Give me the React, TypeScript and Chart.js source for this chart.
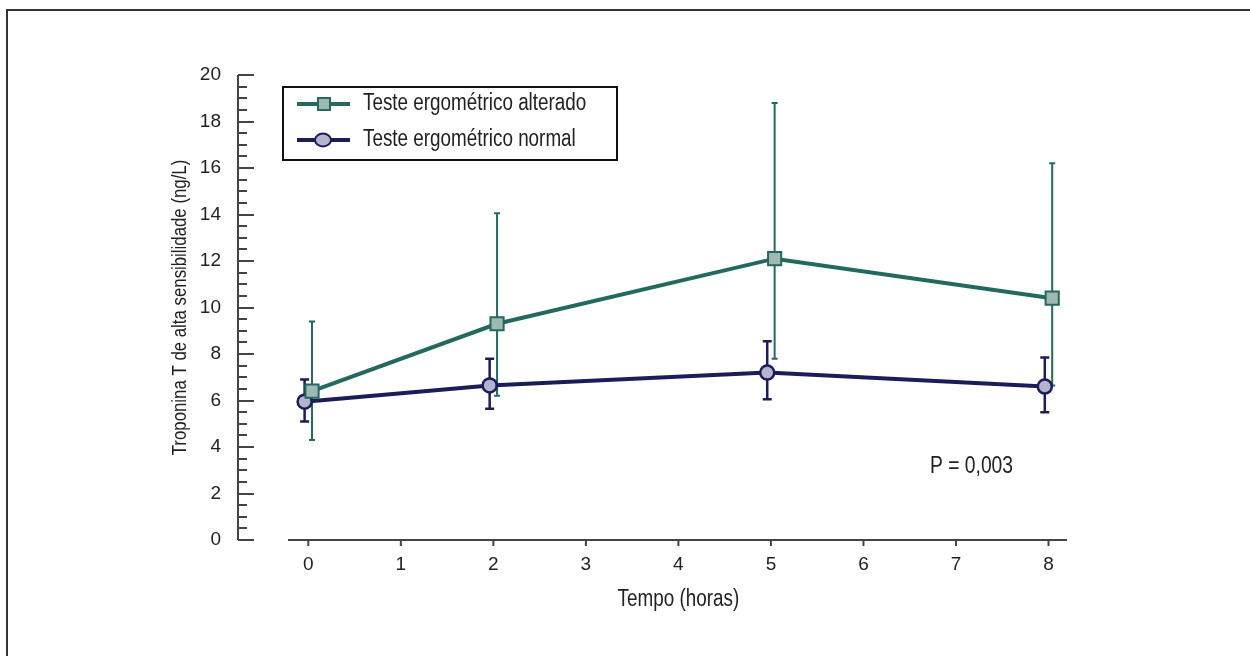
import React, { useEffect, useRef } from "react";
import { Chart, registerables } from "chart.js";

Chart.register(...registerables);

// ---- data ----
const hours = [0, 2, 5, 8];
const xTickValues = [0, 1, 2, 3, 4, 5, 6, 7, 8];
const yTickValues = [0, 2, 4, 6, 8, 10, 12, 14, 16, 18, 20];

const alteredLabel = "Teste ergométrico alterado";
const alteredMean = [6.4, 9.3, 12.1, 10.4];
const alteredUpper = [9.4, 14.05, 18.8, 16.2];
const alteredLower = [4.3, 6.2, 7.8, 6.65];

const normalLabel = "Teste ergométrico normal";
const normalMean = [5.95, 6.65, 7.2, 6.6];
const normalUpper = [6.9, 7.8, 8.55, 7.85];
const normalLower = [5.1, 5.65, 6.05, 5.5];

const yTitle = "Troponina T de alta sensibilidade (ng/L)";
const xTitle = "Tempo (horas)";
const pValueText = "P = 0,003";

// ---- style ----
const FONT = '"Liberation Sans", Arial, Helvetica, sans-serif';
const NARROW = 0.82;
const TEAL = "#24695f";
const TEAL_FILL = "#9fb8b0";
const NAVY = "#1b1d58";
const NAVY_FILL = "#b3b5cf";
const AXIS = "#444444";
const TEXT = "#222222";
const DODGE_ALT = 0.04;
const DODGE_NORM = -0.04;

const series = [
  { mean: alteredMean, upper: alteredUpper, lower: alteredLower, color: TEAL, dodge: DODGE_ALT, cap: 3, width: 2 },
  { mean: normalMean, upper: normalUpper, lower: normalLower, color: NAVY, dodge: DODGE_NORM, cap: 4.5, width: 2.5 },
];

function narrowText(ctx: CanvasRenderingContext2D, text: string, x: number, y: number, size: number, align: CanvasTextAlign, rotate = 0) {
  ctx.save();
  ctx.translate(x, y);
  if (rotate) ctx.rotate(rotate);
  ctx.scale(NARROW, 1);
  ctx.font = `${size}px ${FONT}`;
  ctx.fillStyle = TEXT;
  ctx.textAlign = align;
  ctx.textBaseline = "middle";
  ctx.fillText(text, 0, 0);
  ctx.restore();
}

const decorPlugin = {
  id: "decor",
  beforeDraw(chart: any) {
    const ctx = chart.ctx;
    ctx.save();
    ctx.fillStyle = "#ffffff";
    ctx.fillRect(0, 0, chart.width, chart.height);
    ctx.strokeStyle = "#333333";
    ctx.lineWidth = 2;
    ctx.strokeRect(7, 10, chart.width + 40, chart.height + 40);
    ctx.restore();
  },
  beforeDatasetsDraw(chart: any) {
    const ctx = chart.ctx;
    const xs = chart.scales.x;
    const ys = chart.scales.y;
    const area = chart.chartArea;
    ctx.save();
    // y axis
    ctx.strokeStyle = AXIS;
    ctx.lineWidth = 2;
    ctx.beginPath();
    ctx.moveTo(area.left, ys.getPixelForValue(20));
    ctx.lineTo(area.left, ys.getPixelForValue(0));
    ctx.stroke();
    for (let v = 0; v <= 20.001; v += 0.5) {
      const y = Math.round(ys.getPixelForValue(v));
      const major = Math.abs(v / 2 - Math.round(v / 2)) < 1e-6;
      ctx.beginPath();
      ctx.moveTo(area.left, y);
      ctx.lineTo(area.left + (major ? 16 : 9), y);
      ctx.stroke();
    }
    // x axis
    const xb = area.bottom;
    ctx.beginPath();
    ctx.moveTo(xs.getPixelForValue(-0.22), xb);
    ctx.lineTo(xs.getPixelForValue(8.2), xb);
    ctx.stroke();
    for (const v of xTickValues) {
      const x = xs.getPixelForValue(v);
      ctx.beginPath();
      ctx.moveTo(x, xb);
      ctx.lineTo(x, xb + 6);
      ctx.stroke();
    }
    // error bars
    for (const s of series) {
      ctx.strokeStyle = s.color;
      ctx.lineWidth = s.width;
      hours.forEach((h, j) => {
        const x = xs.getPixelForValue(h + s.dodge);
        const yu = ys.getPixelForValue(s.upper[j]);
        const yl = ys.getPixelForValue(s.lower[j]);
        ctx.beginPath();
        ctx.moveTo(x, yu);
        ctx.lineTo(x, yl);
        ctx.moveTo(x - s.cap, yu);
        ctx.lineTo(x + s.cap, yu);
        ctx.moveTo(x - s.cap, yl);
        ctx.lineTo(x + s.cap, yl);
        ctx.stroke();
      });
    }
    ctx.restore();
  },
  afterDraw(chart: any) {
    const ctx = chart.ctx;
    const xs = chart.scales.x;
    const area = chart.chartArea;
    ctx.save();
    // legend box
    ctx.strokeStyle = "#111111";
    ctx.lineWidth = 2;
    ctx.strokeRect(283, 87, 334, 73);
    const rows = [
      { y: 104, label: alteredLabel, color: TEAL, fill: TEAL_FILL, square: true },
      { y: 140, label: normalLabel, color: NAVY, fill: NAVY_FILL, square: false },
    ];
    for (const r of rows) {
      ctx.strokeStyle = r.color;
      ctx.lineWidth = 4;
      ctx.beginPath();
      ctx.moveTo(297, r.y);
      ctx.lineTo(350, r.y);
      ctx.stroke();
      ctx.fillStyle = r.fill;
      ctx.lineWidth = 2;
      ctx.beginPath();
      if (r.square) ctx.rect(318, r.y - 6, 12, 12);
      else ctx.ellipse(323, r.y, 8, 6.5, 0, 0, Math.PI * 2);
      ctx.fill();
      ctx.stroke();
      narrowText(ctx, r.label, 363, r.y, 23, "left");
    }
    // titles
    narrowText(ctx, xTitle, xs.getPixelForValue(4), 600, 23, "center");
    narrowText(ctx, yTitle, 180, (area.top + area.bottom) / 2, 20.5, "center", -Math.PI / 2);
    // p-value
    narrowText(ctx, pValueText, 930, 467, 23.5, "left");
    ctx.restore();
  },
};

export default function App() {
  const ref = useRef<HTMLCanvasElement | null>(null);
  useEffect(() => {
    if (!ref.current) return;
    const chart = new Chart(ref.current, {
      type: "line",
      data: {
        datasets: [
          {
            label: alteredLabel,
            data: hours.map((h, i) => ({ x: h + DODGE_ALT, y: alteredMean[i] })),
            borderColor: TEAL,
            backgroundColor: TEAL_FILL,
            borderWidth: 4,
            pointStyle: "rect",
            pointRadius: 9.3,
            pointBorderWidth: 2,
            pointBackgroundColor: TEAL_FILL,
            pointBorderColor: TEAL,
            tension: 0,
          },
          {
            label: normalLabel,
            data: hours.map((h, i) => ({ x: h + DODGE_NORM, y: normalMean[i] })),
            borderColor: NAVY,
            backgroundColor: NAVY_FILL,
            borderWidth: 4,
            pointStyle: "circle",
            pointRadius: 7,
            pointBorderWidth: 2.5,
            pointBackgroundColor: NAVY_FILL,
            pointBorderColor: NAVY,
            tension: 0,
          },
        ],
      },
      options: {
        animation: false,
        responsive: false,
        maintainAspectRatio: false,
        layout: { padding: { left: 0, top: 75, right: 183, bottom: 0 } },
        plugins: { legend: { display: false }, tooltip: { enabled: false } },
        scales: {
          x: {
            type: "linear",
            min: -0.76,
            max: 8.2,
            grid: { display: false },
            border: { display: false },
            afterBuildTicks: (scale: any) => {
              scale.ticks = xTickValues.map((v) => ({ value: v }));
            },
            afterFit: (scale: any) => {
              scale.height = 116;
            },
            ticks: {
              padding: 5,
              color: TEXT,
              font: { family: FONT, size: 19 },
              callback: (v: any) => String(v),
            },
          },
          y: {
            type: "linear",
            min: 0,
            max: 20,
            grid: { display: false },
            border: { display: false },
            afterBuildTicks: (scale: any) => {
              scale.ticks = yTickValues.map((v) => ({ value: v }));
            },
            afterFit: (scale: any) => {
              scale.width = 238;
            },
            ticks: {
              padding: 9,
              color: TEXT,
              font: { family: FONT, size: 19 },
              callback: (v: any) => String(v),
            },
          },
        },
      },
      plugins: [decorPlugin],
    });
    return () => chart.destroy();
  }, []);
  return (
    <div style={{ position: "fixed", left: 0, top: 0, width: 1250, height: 656, background: "#fff" }}>
      <canvas ref={ref} width={1250} height={656} style={{ display: "block" }} />
    </div>
  );
}
